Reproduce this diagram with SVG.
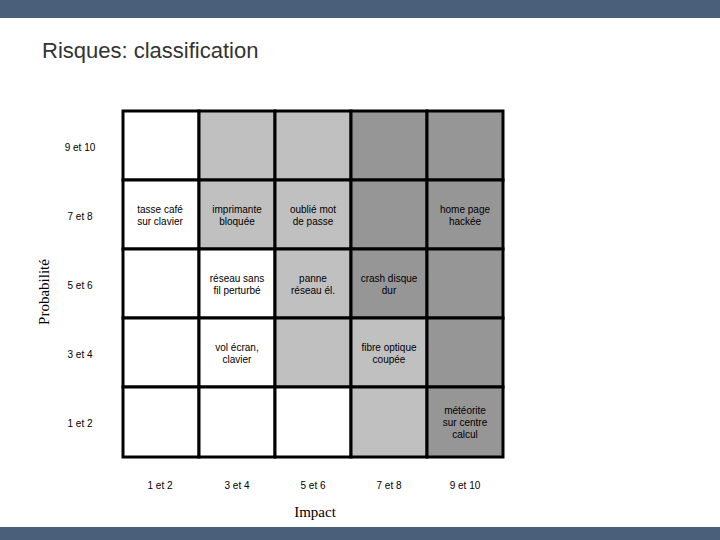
<svg xmlns="http://www.w3.org/2000/svg" width="720" height="540" viewBox="0 0 720 540">
<style>
.c{stroke:#000;stroke-width:3}
.w{fill:#fff}.l{fill:#c0c0c0}.d{fill:#969696}
text{font-family:"Liberation Sans",Arial,sans-serif;font-size:10px;fill:#000;text-anchor:middle}
.ax{font-family:"Liberation Serif","Times New Roman",serif;font-size:15px}
</style>
<rect x="0" y="0" width="720" height="18" fill="#4a5f7a"/>
<rect x="0" y="527" width="720" height="13" fill="#4a5f7a"/>
<text x="42" y="58" style="font-size:22px;text-anchor:start;fill:#333">Risques: classification</text>
<g id="grid">
<rect class="c w" x="123" y="111" width="76" height="69"/><rect class="c l" x="199" y="111" width="76" height="69"/><rect class="c l" x="275" y="111" width="76" height="69"/><rect class="c d" x="351" y="111" width="76" height="69"/><rect class="c d" x="427" y="111" width="76" height="69"/>
<rect class="c w" x="123" y="180" width="76" height="69"/><rect class="c l" x="199" y="180" width="76" height="69"/><rect class="c l" x="275" y="180" width="76" height="69"/><rect class="c d" x="351" y="180" width="76" height="69"/><rect class="c d" x="427" y="180" width="76" height="69"/>
<rect class="c w" x="123" y="249" width="76" height="69"/><rect class="c w" x="199" y="249" width="76" height="69"/><rect class="c l" x="275" y="249" width="76" height="69"/><rect class="c d" x="351" y="249" width="76" height="69"/><rect class="c d" x="427" y="249" width="76" height="69"/>
<rect class="c w" x="123" y="318" width="76" height="69"/><rect class="c w" x="199" y="318" width="76" height="69"/><rect class="c l" x="275" y="318" width="76" height="69"/><rect class="c l" x="351" y="318" width="76" height="69"/><rect class="c d" x="427" y="318" width="76" height="69"/>
<rect class="c w" x="123" y="387" width="76" height="70"/><rect class="c w" x="199" y="387" width="76" height="70"/><rect class="c w" x="275" y="387" width="76" height="70"/><rect class="c l" x="351" y="387" width="76" height="70"/><rect class="c d" x="427" y="387" width="76" height="70"/>
</g>
<g id="labels">
<text x="160" y="213">tasse café</text><text x="160" y="225">sur clavier</text>
<text x="237" y="213">imprimante</text><text x="237" y="225">bloquée</text>
<text x="313" y="213">oublié mot</text><text x="313" y="225">de passe</text>
<text x="465" y="213">home page</text><text x="465" y="225">hackée</text>
<text x="237" y="282">réseau sans</text><text x="237" y="294">fil perturbé</text>
<text x="313" y="282">panne</text><text x="313" y="294">réseau él.</text>
<text x="389" y="282">crash disque</text><text x="389" y="294">dur</text>
<text x="237" y="351">vol écran,</text><text x="237" y="363">clavier</text>
<text x="389" y="351">fibre optique</text><text x="389" y="363">coupée</text>
<text x="465" y="414">météorite</text><text x="465" y="426">sur centre</text><text x="465" y="438">calcul</text>
</g>
<g id="axes">
<text x="80" y="151">9 et 10</text><text x="80" y="220">7 et 8</text><text x="80" y="289">5 et 6</text><text x="80" y="358">3 et 4</text><text x="80" y="427">1 et 2</text>
<text x="160" y="489">1 et 2</text><text x="237" y="489">3 et 4</text><text x="313" y="489">5 et 6</text><text x="389" y="489">7 et 8</text><text x="465" y="489">9 et 10</text>
<text class="ax" x="315" y="517">Impact</text>
<text class="ax" transform="translate(49,292) rotate(-90)">Probabilité</text>
</g>
</svg>
